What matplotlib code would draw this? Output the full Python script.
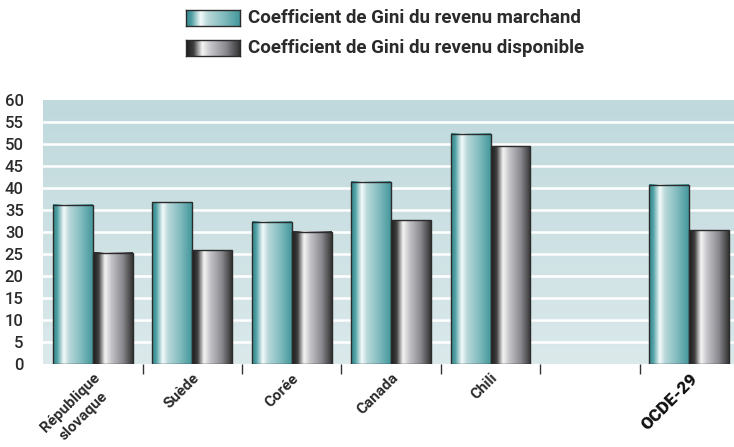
import matplotlib.pyplot as plt
import numpy as np
from matplotlib.colors import LinearSegmentedColormap
from matplotlib.patches import Rectangle

# data
countries = ["République\nslovaque", "Suède", "Corée", "Canada", "Chili", "", "OCDE-29"]
gini_market = [36.2, 36.8, 32.3, 41.4, 52.3, np.nan, 40.7]
gini_disposable = [25.3, 25.8, 30.0, 32.7, 49.5, np.nan, 30.4]
yticks = [0, 5, 10, 15, 20, 25, 30, 35, 40, 45, 50, 55, 60]
legend_labels = ["Coefficient de Gini du revenu marchand",
                 "Coefficient de Gini du revenu disponible"]

plt.rcParams['font.family'] = ['Roboto', 'DejaVu Sans']

tealMap = LinearSegmentedColormap.from_list(
    "teal", [(0.0, '#35898e'), (0.1, '#4d9ea2'), (0.27, '#f6fbfb'),
             (0.4, '#b9d8da'), (0.7, '#82bcbf'), (1.0, '#44979b')])
greyMap = LinearSegmentedColormap.from_list(
    "grey", [(0.0, '#1c1c1c'), (0.14, '#3e3e3e'), (0.3, '#f6f6f6'),
             (0.45, '#c6c6ca'), (0.75, '#88888e'), (1.0, '#333333')])
bgMap = LinearSegmentedColormap.from_list("bg", ['#dbe9eb', '#bfd9dc'])

grad = np.linspace(0, 1, 256).reshape(1, -1)


def gradientBar(ax, x0, w, h, cmap):
    ax.imshow(grad, cmap=cmap, aspect='auto', extent=(x0, x0 + w, 0, h),
              interpolation='bicubic', zorder=3)
    ax.add_patch(Rectangle((x0, 0), w, h, fill=False, edgecolor='#2b2b2b',
                           linewidth=1.0, zorder=4))


fig = plt.figure(figsize=(7.34, 4.47), dpi=100)
ax = fig.add_axes([43.3 / 734, 1 - 364 / 447, 1 - 43.3 / 734, 264 / 447])

xlo, xhi = -0.5, 6.45
ax.imshow(np.linspace(0, 1, 256).reshape(-1, 1), cmap=bgMap, aspect='auto',
          extent=(xlo, xhi, 0, 60), origin='lower', zorder=0)
for yv in yticks[1:-1]:
    ax.axhline(yv, color='white', linewidth=1.8, zorder=1)

barW = 0.402
for i, (m, d) in enumerate(zip(gini_market, gini_disposable)):
    if np.isnan(m):
        continue
    gradientBar(ax, i - barW, barW, m, tealMap)
    gradientBar(ax, i, barW, d, greyMap)

ax.set_xlim(xlo, xhi)
ax.set_ylim(0, 60)
for s in ax.spines.values():
    s.set_visible(False)

ax.set_yticks(yticks)
ax.set_yticklabels([str(v) for v in yticks], fontsize=12, fontweight='medium',
                   color='#2b2b2b')
ax.tick_params(axis='y', length=0, pad=14)

n = len(countries)
ax.set_xticks([i + 0.5 for i in range(n - 1)])
ax.set_xticklabels([])
ax.tick_params(axis='x', which='major', length=7, width=1, color='#333333',
               direction='out', pad=0)
ax.set_xticks(range(n), minor=True)
ax.set_xticklabels(countries, minor=True, rotation=45, ha='right',
                   rotation_mode='anchor', fontsize=11, fontweight='bold',
                   color='#2b2b2b', multialignment='center',
                   linespacing=1.35)
ax.tick_params(axis='x', which='minor', length=0, pad=5)
for lab in ax.get_xticklabels(minor=True):
    if lab.get_text() == "OCDE-29":
        lab.set_fontweight('black')
        lab.set_color('#111111')
        lab.set_fontsize(12.5)

# legend drawn by hand so the swatches keep the gradient
for k, (lab, cmap) in enumerate(zip(legend_labels, [tealMap, greyMap])):
    ytop = 10 + 30 * k
    lax = fig.add_axes([186 / 734, 1 - (ytop + 16) / 447, 54 / 734, 16 / 447])
    lax.imshow(grad, cmap=cmap, aspect='auto', interpolation='bicubic')
    lax.set_xticks([])
    lax.set_yticks([])
    for s in lax.spines.values():
        s.set_color('#2b2b2b')
        s.set_linewidth(1.0)
    fig.text(248 / 734, 1 - (ytop + 8) / 447, lab, fontsize=13.5,
             fontweight='bold', color='#2b2b2b', va='center', ha='left')

fig.savefig("out.png", dpi=100)
